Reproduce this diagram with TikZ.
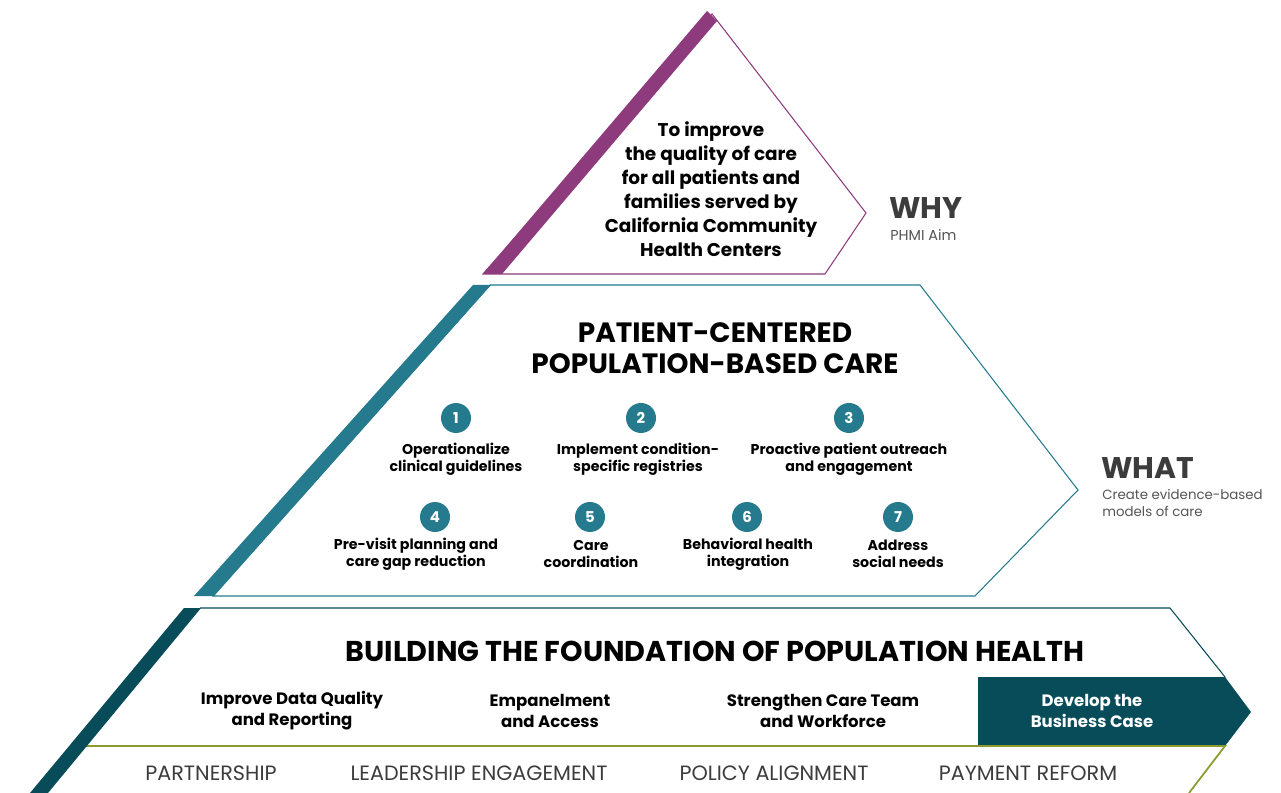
\documentclass[tikz,border=0pt]{standalone}
\usepackage{fontspec}
\setmainfont{Poppins}
\usetikzlibrary{shapes}

\definecolor{aimpurple}{RGB}{142,59,126}
\definecolor{midteal}{RGB}{37,122,142}
\definecolor{baseteal}{RGB}{8,76,90}
\definecolor{basegreen}{RGB}{138,156,48}
\definecolor{sidegray}{RGB}{60,60,60}
\definecolor{notegray}{RGB}{85,85,85}

\begin{document}
\begin{tikzpicture}[x=0.02cm,y=-0.02cm]
\tikzstyle{edgeline}=[line width=0.6pt]
\tikzstyle{aimtext}=[align=center,inner sep=0pt,font=\bfseries\fontsize{10.5}{13.6}\selectfont]
\tikzstyle{heading}=[align=center,inner sep=0pt,font=\bfseries\fontsize{15.9}{17.6}\selectfont]
\tikzstyle{num}=[circle,fill=midteal,text=white,minimum size=0.6cm,inner sep=0pt,font=\bfseries\fontsize{8.5}{10}\selectfont]
\tikzstyle{item}=[align=center,inner sep=0pt,font=\bfseries\fontsize{8.1}{9.6}\selectfont]
\tikzstyle{pillar}=[align=center,inner sep=0pt,font=\bfseries\fontsize{9.4}{11.9}\selectfont]
\tikzstyle{enabler}=[inner sep=0pt,text=sidegray,font=\fontsize{11.8}{13}\selectfont]
\tikzstyle{side}=[anchor=base west,inner sep=0pt,text depth=0pt,text=sidegray,font=\bfseries\fontsize{17}{19}\selectfont]
\tikzstyle{sidenote}=[anchor=north west,align=left,inner sep=0pt,text=notegray,font=\fontsize{7.6}{9.6}\selectfont]
\useasboundingbox (0,0) rectangle (1281,793);
\fill[white] (0,0) rectangle (1281,793);

\draw[aimpurple,edgeline] (483,274) -- (712,14) -- (866,213) -- (825,274) -- cycle;
\fill[aimpurple] (483,274) -- (502,274) -- (717,21) -- (707,11) -- cycle;
\node[aimtext] (aim) at (711,189) {To improve\\the quality of care\\for all patients and\\families served by\\California Community\\Health Centers};
\node[side] (why) at (889,219) {WHY};
\node[sidenote,font=\fontsize{8.2}{9.6}\selectfont] (whynote) at (890,229) {PHMI Aim};

\draw[midteal,edgeline] (213,596) -- (490,285) -- (920,285) -- (1078,490) -- (975,596) -- cycle;
\fill[midteal] (194,596) -- (214,596) -- (491,285) -- (473,285) -- cycle;
\node[heading] (care) at (715,348) {PATIENT-CENTERED\\POPULATION-BASED CARE};
\node[num] (n1) at (456,418) {1};
\node[num] (n2) at (641,418) {2};
\node[num] (n3) at (849,418) {3};
\node[num] (n4) at (435,517) {4};
\node[num] (n5) at (590,517) {5};
\node[num] (n6) at (747,517) {6};
\node[num] (n7) at (898,517) {7};
\node[item] (i1) at (456,459) {Operationalize\\clinical guidelines};
\node[item] (i2) at (638,459) {Implement condition-\\specific registries};
\node[item] (i3) at (849,459) {Proactive patient outreach\\and engagement};
\node[item] (i4) at (416,554) {Pre-visit planning and\\care gap reduction};
\node[item] (i5) at (591,554) {Care\\coordination};
\node[item] (i6) at (748,554) {Behavioral health\\integration};
\node[item] (i7) at (898,554) {Address\\social needs};
\node[side] (what) at (1101,479) {WHAT};
\node[sidenote] (whatnote) at (1102,489) {Create evidence-based\\models of care};

\draw[baseteal,edgeline] (200,608) -- (1170,608) -- (1225,677);
\fill[baseteal] (978,677) -- (1225,677) -- (1251,712) -- (1225,746) -- (978,746) -- cycle;
\draw[basegreen,line width=1pt] (85,746) -- (1225,746) -- (1189,793);
\fill[baseteal] (30,793) -- (48,793) -- (201,608) -- (184,608) -- cycle;
\node[heading,font=\bfseries\fontsize{16.3}{18}\selectfont] (found) at (715,651) {BUILDING THE FOUNDATION OF POPULATION HEALTH};
\node[pillar] (p1) at (292,711) {Improve Data Quality\\and Reporting};
\node[pillar] (p2) at (550,711) {Empanelment\\and Access};
\node[pillar] (p3) at (823,711) {Strengthen Care Team\\and Workforce};
\node[pillar,text=white] (p4) at (1092,711) {Develop the\\Business Case};
\node[enabler] (e1) at (211,773) {PARTNERSHIP};
\node[enabler] (e2) at (479,773) {LEADERSHIP ENGAGEMENT};
\node[enabler] (e3) at (774,773) {POLICY ALIGNMENT};
\node[enabler] (e4) at (1028,773) {PAYMENT REFORM};
\end{tikzpicture}
\end{document}
